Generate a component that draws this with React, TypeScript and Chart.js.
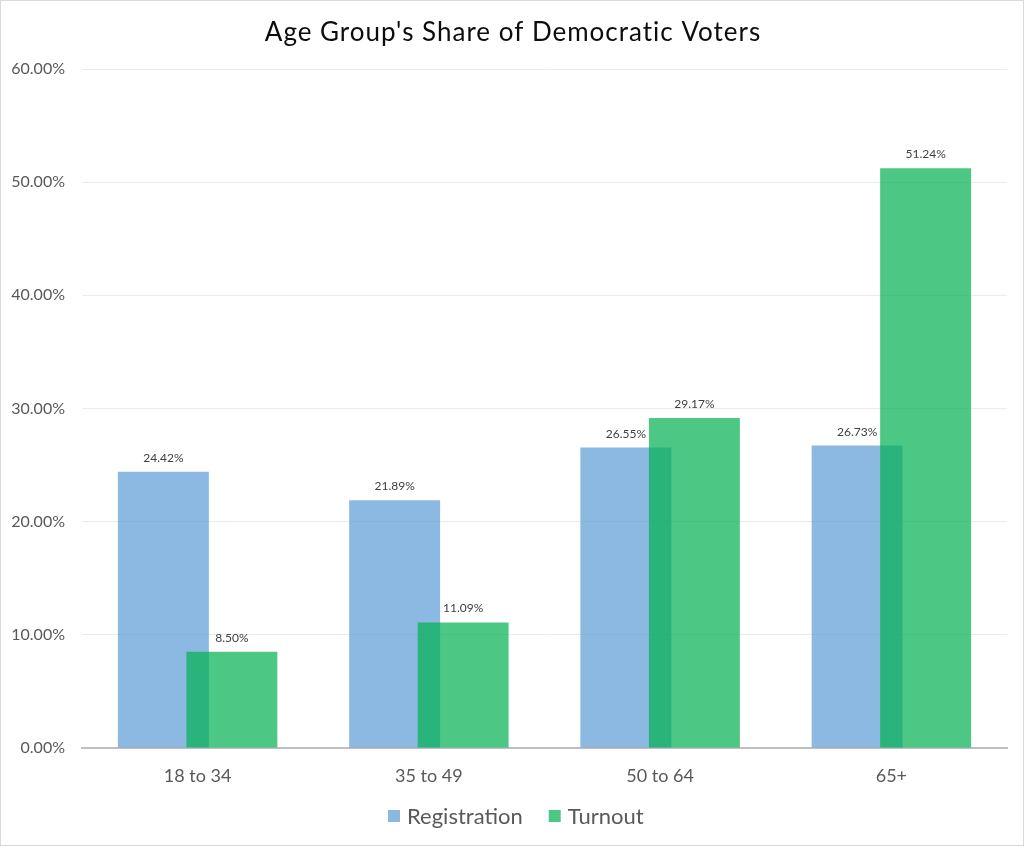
import React, { useEffect, useRef } from "react";
import { Chart, registerables } from "chart.js";

Chart.register(...registerables);

const TITLE = "Age Group's Share of Democratic Voters";
const categories = ["18 to 34", "35 to 49", "50 to 64", "65+"];
const registration = [24.42, 21.89, 26.55, 26.73];
const turnout = [8.5, 11.09, 29.17, 51.24];
const seriesNames = ["Registration", "Turnout"];
const yMin = 0;
const yMax = 60;
const yStep = 10;

const FONT = "Lato, 'Noto Sans', sans-serif";

let drawingTop = false;

const decorPlugin = {
  id: "decor",
  beforeDraw(chart: any) {
    const ctx = chart.ctx;
    ctx.save();
    ctx.fillStyle = "#ffffff";
    ctx.fillRect(0, 0, chart.width, chart.height);
    ctx.restore();
  },
  beforeDatasetDraw(chart: any, args: any) {
    // draw the Turnout series last so it sits on top of Registration
    if (args.index === 1 && !drawingTop) return false;
  },
  afterDatasetsDraw(chart: any) {
    const ctx = chart.ctx;
    const meta1 = chart.getDatasetMeta(1);
    if (meta1 && meta1.visible) {
      drawingTop = true;
      ctx.save();
      meta1.controller.draw();
      ctx.restore();
      drawingTop = false;
    }
    ctx.save();
    ctx.font = `12px ${FONT}`;
    ctx.fillStyle = "#404040";
    ctx.textAlign = "center";
    ctx.textBaseline = "alphabetic";
    chart.data.datasets.forEach((ds: any, di: number) => {
      const meta = chart.getDatasetMeta(di);
      meta.data.forEach((bar: any, i: number) => {
        const v = ds.data[i];
        ctx.fillText(v.toFixed(2) + "%", bar.x, bar.y - 10);
      });
    });
    ctx.restore();
  },
  afterDraw(chart: any) {
    const ctx = chart.ctx;
    ctx.save();
    // title
    ctx.font = `26px ${FONT}`;
    ctx.fillStyle = "#0d0d0d";
    ctx.textAlign = "center";
    ctx.textBaseline = "alphabetic";
    try {
      (ctx as any).letterSpacing = "1px";
    } catch (e) {}
    ctx.fillText(TITLE, chart.width / 2 + 1, 41);
    try {
      (ctx as any).letterSpacing = "0px";
    } catch (e) {}

    // legend
    ctx.font = `22px ${FONT}`;
    const items = chart.data.datasets.map((ds: any) => ({
      label: ds.label,
      color: ds.backgroundColor,
    }));
    const box = 12;
    const gapBoxText = 7;
    const gapItems = 26;
    const widths = items.map((it: any) => box + gapBoxText + ctx.measureText(it.label).width);
    const total = widths.reduce((a: number, b: number) => a + b, 0) + gapItems * (items.length - 1);
    let x = Math.round(516 - total / 2);
    const baseline = 824;
    items.forEach((it: any, i: number) => {
      ctx.fillStyle = it.color;
      ctx.fillRect(x, 810, box, box);
      ctx.fillStyle = "#595959";
      ctx.textAlign = "left";
      ctx.fillText(it.label, x + box + gapBoxText, baseline);
      x += widths[i] + gapItems;
    });

    // outer border
    ctx.strokeStyle = "#d9d9d9";
    ctx.lineWidth = 1;
    ctx.strokeRect(0.5, 0.5, chart.width - 1, chart.height - 1);
    ctx.restore();
  },
};

export default function App() {
  const ref = useRef<HTMLCanvasElement | null>(null);

  useEffect(() => {
    if (!ref.current) return;
    const chart = new Chart(ref.current, {
      type: "bar",
      data: {
        labels: categories,
        datasets: [
          {
            label: seriesNames[0],
            data: registration,
            backgroundColor: "rgba(91,155,213,0.7)",
            borderWidth: 0,
            categoryPercentage: 0.5924,
            barPercentage: 1.328,
          },
          {
            label: seriesNames[1],
            data: turnout,
            backgroundColor: "rgba(0,176,80,0.7)",
            borderWidth: 0,
            categoryPercentage: 0.5924,
            barPercentage: 1.328,
          },
        ],
      },
      options: {
        responsive: false,
        animation: false,
        devicePixelRatio: 1,
        layout: { padding: { top: 69, right: 17, bottom: 0, left: 0 } },
        plugins: {
          legend: { display: false },
          title: { display: false },
          tooltip: { enabled: false },
        },
        scales: {
          x: {
            grid: { display: false, drawTicks: false },
            border: { display: true, color: "#bfbfbf", width: 2 },
            ticks: {
              color: "#595959",
              font: { family: FONT, size: 18 },
              padding: 17,
              maxRotation: 0,
            },
            afterFit: (s: any) => {
              s.height = 98;
            },
          },
          y: {
            min: yMin,
            max: yMax,
            grid: { color: "#ebebeb", lineWidth: 1, drawTicks: false },
            border: { display: false },
            ticks: {
              stepSize: yStep,
              color: "#595959",
              font: { family: FONT, size: 16 },
              padding: 17,
              callback: (v: any) => Number(v).toFixed(2) + "%",
            },
            afterFit: (s: any) => {
              s.width = 82;
            },
          },
        },
      },
      plugins: [decorPlugin],
    });
    return () => chart.destroy();
  }, []);

  return (
    <div style={{ position: "fixed", left: 0, top: 0, width: 1024, height: 846, background: "#fff" }}>
      <canvas ref={ref} width={1024} height={846} style={{ display: "block", width: 1024, height: 846 }} />
    </div>
  );
}
